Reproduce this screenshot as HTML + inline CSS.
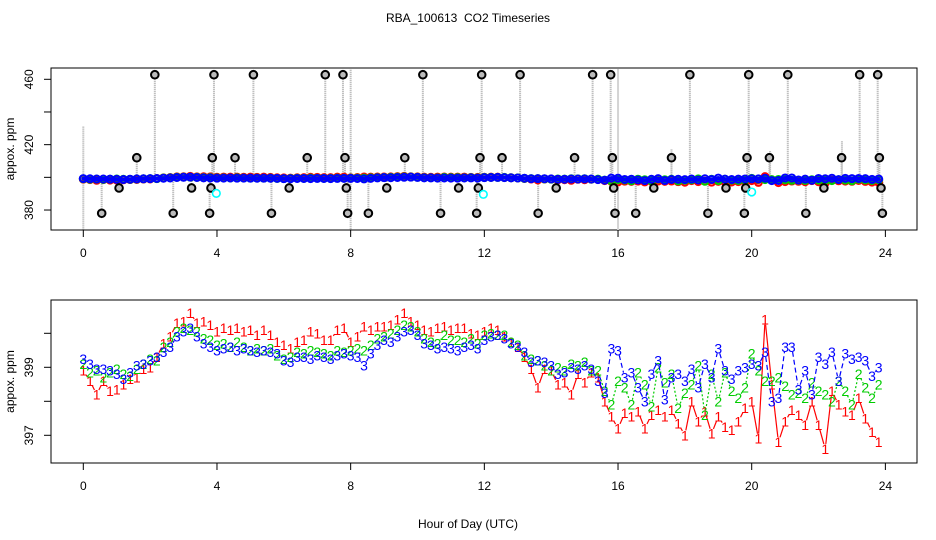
<!DOCTYPE html>
<html><head><meta charset="utf-8">
<style>
html,body{margin:0;padding:0;background:#fff;}
svg{display:block;font-family:"Liberation Sans",sans-serif;}
</style></head>
<body>
<svg id="chart" width="936" height="540" viewBox="0 0 936 540" xmlns="http://www.w3.org/2000/svg">
<rect width="936" height="540" fill="#fff"/>
<text x="468" y="22" text-anchor="middle" font-size="12" style="white-space:pre">RBA_100613  CO2 Timeseries</text>
<text x="468" y="528" text-anchor="middle" font-size="12">Hour of Day (UTC)</text>
<g id="topPanel"></g>
<g id="botPanel"></g>
</svg>
<script>
const xTicks = [0,4,8,12,16,20,24];
const topTicks = [380,400,420,440,460];
const topTickLabels = ["380","","420","","460"];
const botTicks = [397,398,399,400];
const botTickLabels = ["397","","399",""];
const hours = [];
for (let i=0;i<120;i++) hours.push(+(i*0.2).toFixed(1));
const series1 = [398.9,398.6,398.2,398.6,398.3,398.35,398.5,398.65,398.7,398.95,399.0,399.3,399.7,399.9,400.3,400.35,400.6,400.3,400.35,400.25,
400.05,400.15,400.1,400.15,400.05,400.1,399.95,400.1,399.95,399.75,399.65,399.55,399.75,399.8,400.05,400.0,399.8,399.8,400.1,400.15,
399.75,399.9,400.2,400.1,400.2,400.2,400.25,400.4,400.6,400.35,400.25,400.1,400.05,400.15,400.2,400.1,400.15,400.15,400.0,399.95,
400.05,400.15,400.1,399.9,399.75,399.6,399.3,398.95,398.4,398.95,398.9,398.5,398.55,398.2,398.8,398.55,398.85,398.7,398.0,397.55,
397.2,397.65,397.55,397.7,397.2,397.6,397.75,397.55,397.75,397.35,397.0,398.0,397.4,397.7,397.05,397.55,397.25,397.15,397.4,397.8,
398.0,396.9,400.4,398.5,396.8,397.4,397.75,397.6,397.3,398.0,397.3,396.6,398.3,397.9,397.7,397.6,398.1,397.5,397.1,396.8];
const series2 = [399.1,398.85,398.9,398.7,398.85,398.95,398.8,398.75,398.95,399.1,399.25,399.2,399.6,399.75,400.05,400.15,400.1,400.05,399.85,399.8,
399.65,399.7,399.6,399.75,399.6,399.5,399.55,399.5,399.55,399.35,399.25,399.3,399.45,399.4,399.5,399.45,399.4,399.35,399.5,399.45,
399.5,399.55,399.5,399.65,399.85,399.9,400.0,400.1,400.25,400.2,400.05,399.85,399.75,399.7,399.95,399.8,399.8,399.75,399.85,399.7,
399.95,400.0,399.95,399.95,399.75,399.65,399.35,399.25,399.2,399.05,398.9,399.0,398.9,399.1,399.05,399.15,398.9,398.9,398.3,397.9,
398.6,398.4,397.9,398.85,398.5,397.85,399.0,398.55,398.8,397.8,398.25,398.5,399.05,397.6,398.8,398.0,398.85,398.3,398.1,398.4,
399.4,398.9,398.6,398.6,398.7,398.45,398.2,398.25,398.1,398.55,398.3,398.2,398.0,398.6,398.3,397.9,398.8,398.4,398.1,398.5];
const series3 = [399.25,399.1,398.95,398.95,398.9,398.8,398.65,398.85,399.05,399.1,399.2,399.3,399.45,399.6,399.9,400.05,400.15,399.9,399.7,399.6,
399.5,399.55,399.6,399.5,399.55,399.5,399.45,399.5,399.45,399.4,399.2,399.15,399.3,399.3,399.25,399.35,399.3,399.25,399.35,399.4,
399.35,399.3,399.05,399.4,399.65,399.8,399.75,399.9,400.05,400.1,399.95,399.7,399.65,399.55,399.6,399.55,399.5,399.6,399.65,399.55,
399.8,399.9,399.95,399.85,399.7,399.6,399.45,399.15,399.2,399.15,399.05,398.8,398.85,399.0,398.95,399.05,398.95,398.6,398.25,399.55,
399.5,398.7,398.85,398.4,398.0,398.8,399.2,398.05,398.7,398.8,398.6,398.95,398.4,399.1,398.7,399.55,398.9,398.65,398.9,399.0,
399.1,399.05,399.45,398.0,398.1,399.6,399.6,398.35,398.9,398.2,399.3,399.1,399.45,398.6,399.4,399.25,399.3,399.2,398.75,399.0];
const outlierHours = [0.55,1.07,1.6,2.14,2.69,3.24,3.78,3.82,3.86,3.91,4.54,5.09,5.63,6.16,6.7,7.24,7.77,7.83,7.87,7.91,8.53,9.08,9.62,10.16,10.69,11.23,
11.77,11.82,11.87,11.92,12.53,13.07,13.61,14.15,14.7,15.24,15.78,15.83,15.87,15.91,16.53,17.07,17.6,18.15,18.69,19.23,19.78,19.82,19.86,19.91,20.53,21.08,21.62,22.16,22.69,23.23,23.77,23.82,23.87,23.91];
const outlierValues = [378,393.5,412,462.8,378,393.5,378,393.5,412,462.8,412,462.8,378,393.5,412,462.8,462.8,412,393.5,378,378,393.5,412,462.8,378,393.5,
378,393.5,412,462.8,412,462.8,378,393.5,412,462.8,462.8,412,393.5,378,378,393.5,412,462.8,378,393.5,378,393.5,412,462.8,412,462.8,378,393.5,412,462.8,462.8,412,393.5,378];
const cyanHours = [3.98,11.97,20.0];
const cyanValues = [390.2,389.6,391];
const spikeHours = [0,8,16,17.6,20.55,22.7];
const spikeLow = [352,349,351,398,398,398];
const spikeHigh = [431,468,466,417,416,422];

const NS="http://www.w3.org/2000/svg";
function el(tag,attrs,parent){const e=document.createElementNS(NS,tag);for(const k in attrs)e.setAttribute(k,attrs[k]);parent.appendChild(e);return e;}
const X0=51,X1=917;
const xs = h => 83.3 + h*33.42;
const ysTop = v => 79.3 + (460-v)*1.634;
const ysBot = v => 367.3 - (v-399)*34;

function frame(g, yTop, yBot, ticks, labels, ys, name){
  const r=el('rect',{x:X0,y:yTop,width:X1-X0,height:yBot-yTop,fill:'none',stroke:'#000','stroke-width':1},g);
  
  
  xTicks.forEach(t=>{
    const l=el('line',{x1:xs(t),x2:xs(t),y1:yBot,y2:yBot+7,stroke:'#000'},g);
    
    
    const tx=el('text',{x:xs(t),y:yBot+27,'text-anchor':'middle','font-size':12},g);
    tx.textContent=t;
    
    
  });
  ticks.forEach((t,i)=>{
    const y=ys(t);
    const l=el('line',{x1:X0-7,x2:X0,y1:y,y2:y,stroke:'#000'},g);
    
    
    if(labels[i]){
      const tx=el('text',{x:0,y:0,'text-anchor':'middle','font-size':12,transform:`translate(33,${y}) rotate(-90)`},g);
      tx.textContent=labels[i];
      
      
    }
  });
  const yl=el('text',{x:0,y:0,'text-anchor':'middle','font-size':12,transform:`translate(14,${(yTop+yBot)/2}) rotate(-90)`},g);
  yl.textContent='appox. ppm';
  
  
}

// TOP PANEL
const topG=document.getElementById('topPanel');
frame(topG,68,230,topTicks,topTickLabels,ysTop,'top');
const clipT=el('clipPath',{id:'ct'},topG);el('rect',{x:X0,y:68,width:X1-X0,height:162},clipT);
const tg=el('g',{'clip-path':'url(#ct)'},topG);
outlierHours.forEach((h,i)=>{
  const l=el('line',{x1:xs(h),x2:xs(h),y1:ysTop(outlierValues[i]),y2:ysTop(399.3),stroke:'#aaa','stroke-width':2,'stroke-dasharray':'1,1'},tg);
  
  
});
spikeHours.forEach((h,i)=>{
  const l=el('line',{x1:xs(h),x2:xs(h),y1:ysTop(spikeHigh[i]),y2:ysTop(spikeLow[i]),stroke:'#aaa','stroke-width':2,'stroke-dasharray':'1,1'},tg);
  
  
});
[[series1,'#f00','series1'],[series2,'#0c0','series2'],[series3,'#00f','series3']].forEach(([s,c,n])=>{
  const pts=s.map((v,i)=>xs(hours[i])+','+ysTop(v)).join(' ');
  const pl=el('polyline',{points:pts,fill:'none',stroke:c,'stroke-width':4,'stroke-linejoin':'round','stroke-linecap':'round'},tg);
  
  
  s.forEach((v,i)=>{
    const ci=el('circle',{cx:xs(hours[i]),cy:ysTop(v),r:3.5,fill:'none',stroke:c,'stroke-width':2},tg);
    
    
  });
});
outlierHours.forEach((h,i)=>{
  const ci=el('circle',{cx:xs(h),cy:ysTop(outlierValues[i]),r:3.8,fill:'#bbb',stroke:'#000','stroke-width':2},tg);
  
  
});
cyanHours.forEach((h,i)=>{
  const ci=el('circle',{cx:xs(h),cy:ysTop(cyanValues[i]),r:3.8,fill:'none',stroke:'#0ff','stroke-width':1.6},tg);
  
  
});

// BOTTOM PANEL
const botG=document.getElementById('botPanel');
frame(botG,300,463,botTicks,botTickLabels,ysBot,'bottom');
const clipB=el('clipPath',{id:'cb'},botG);el('rect',{x:X0,y:300,width:X1-X0,height:163},clipB);
const bg=el('g',{'clip-path':'url(#cb)'},botG);
[[series1,'#f00','1','none','series1'],[series2,'#0c0','2','2,2','series2'],[series3,'#00f','3','5,3','series3']].forEach(([s,c,ch,dash,n])=>{
  for(let i=0;i<s.length-1;i++){
    const x1=xs(hours[i]),y1=ysBot(s[i]),x2=xs(hours[i+1]),y2=ysBot(s[i+1]);
    const dx=x2-x1,dy=y2-y1,L=Math.hypot(dx,dy),gap=5;
    if(L<=2*gap) continue;
    const l=el('line',{x1:x1+dx*gap/L,y1:y1+dy*gap/L,x2:x2-dx*gap/L,y2:y2-dy*gap/L,stroke:c,'stroke-width':1.2,'stroke-dasharray':dash},bg);
    
    
  }
  s.forEach((v,i)=>{
    const t=el('text',{x:xs(hours[i]),y:ysBot(v)+5,'text-anchor':'middle','font-size':14,fill:c},bg);
    t.textContent=ch;
    
    
  });
});
</script>
</body></html>
